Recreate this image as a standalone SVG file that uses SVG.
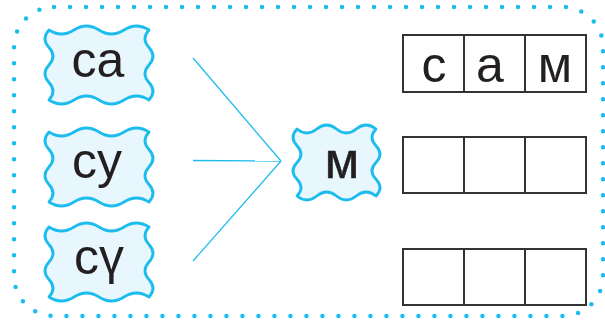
<svg xmlns="http://www.w3.org/2000/svg" width="605" height="320" viewBox="0 0 605 320">
  <style>
    .wave { fill: #E8F6FD; stroke: #1CBDEE; stroke-width: 2.8; stroke-linejoin: round; }
    .lbl { font-family: "Liberation Sans", Arial, sans-serif; font-size: 50px; fill: #231F20; text-anchor: middle; }
    .cell { fill: #FFFFFF; stroke: #333333; stroke-width: 2; }
    .conn { stroke: #1CBDEE; stroke-width: 1.3; fill: none; }
  </style>
  <defs>
    <path id="wL" class="wave" d="M0,0 Q12.5,8 25,0 T50,0 T75,0 T100,0 Q92,8.75 100,17.5 T100,35 T100,52.5 T100,70 Q87.5,62 75,70 T50,70 T25,70 T0,70 Q8,61.25 0,52.5 T0,35 T0,17.5 T0,0 Z"/>
    <path id="wM" class="wave" d="M0,0 Q9.875,8 19.75,0 T39.5,0 T59.25,0 T79,0 Q71,8.375 79,16.75 T79,33.5 T79,50.25 T79,67 Q69.125,59 59.25,67 T39.5,67 T19.75,67 T0,67 Q8,58.625 0,50.25 T0,33.5 T0,16.75 T0,0 Z"/>
  </defs>

  <rect id="frame" x="14" y="7" width="589" height="309" rx="40" ry="40" fill="none" stroke="#1CBDEE" stroke-width="4.5" stroke-linecap="round" stroke-dasharray="0 16"/>

  <g id="connectors">
    <line class="conn" x1="193" y1="58" x2="281" y2="161"/>
    <line class="conn" x1="193" y1="160.5" x2="281" y2="161"/>
    <line class="conn" x1="193" y1="261" x2="281" y2="161"/>
  </g>

  <g id="node-sa">
    <use href="#wL" x="49" y="30"/>
    <text class="lbl" x="98" y="77" font-size="48">са</text>
  </g>
  <g id="node-su">
    <use href="#wL" x="49" y="132"/>
    <text class="lbl" x="97" y="178" font-size="48">су</text>
  </g>
  <g id="node-su2">
    <use href="#wL" x="49" y="227"/>
    <text class="lbl" x="99" y="274" font-size="48">сү</text>
  </g>
  <g id="node-m">
    <use href="#wM" x="297" y="129"/>
    <text class="lbl" x="342" y="178" font-size="47" stroke="#231F20" stroke-width="0.6">м</text>
  </g>

  <g id="grid-1">
    <rect class="cell" x="403" y="35" width="61" height="57"/>
    <rect class="cell" x="464" y="35" width="61" height="57"/>
    <rect class="cell" x="525" y="35" width="61" height="57"/>
    <text class="lbl" x="434" y="82">с</text>
    <text class="lbl" x="490" y="82">а</text>
    <text class="lbl" x="555" y="82">м</text>
  </g>
  <g id="grid-2">
    <rect class="cell" x="403" y="137" width="61" height="56"/>
    <rect class="cell" x="464" y="137" width="61" height="56"/>
    <rect class="cell" x="525" y="137" width="61" height="56"/>
  </g>
  <g id="grid-3">
    <rect class="cell" x="403" y="249" width="61" height="56"/>
    <rect class="cell" x="464" y="249" width="61" height="56"/>
    <rect class="cell" x="525" y="249" width="61" height="56"/>
  </g>
</svg>
